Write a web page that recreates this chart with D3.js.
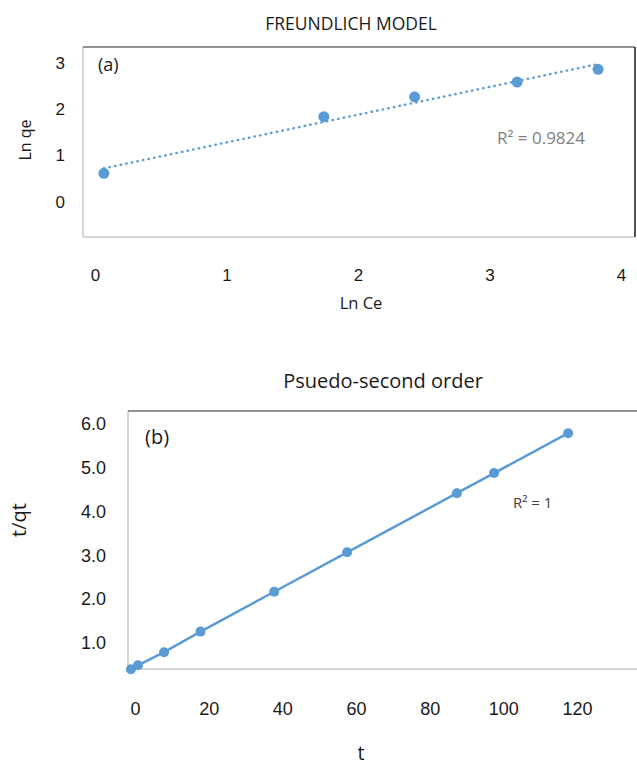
<!DOCTYPE html>
<html>
<head>
<meta charset="utf-8">
<script src="https://cdn.jsdelivr.net/npm/d3@7"></script>
<style>
    body { margin: 0; background: #fff; }
    svg { display: block; font-family: "Open Sans", sans-serif; }
    .tick text { fill: #1a1a1a; }
</style>
</head>
<body>
<div id="chart"></div>
<script>
// (a) Freundlich isotherm: Ln Ce vs Ln qe
const lnCe = [0.068, 1.74, 2.43, 3.21, 3.825];
const lnQe = [0.615, 1.84, 2.27, 2.59, 2.866];
const ticksA_x = [0, 1, 2, 3, 4];
const ticksA_y = [0, 1, 2, 3];

// (b) Pseudo-second order kinetics: t vs t/qt
const tVals = [-1.1, 0.8, 7.9, 17.8, 37.8, 57.6, 87.4, 97.5, 117.6];
const tqtVals = [0.40, 0.49, 0.79, 1.26, 2.17, 3.07, 4.42, 4.88, 5.79];
const ticksB_x = [0, 20, 40, 60, 80, 100, 120];
const ticksB_y = [1, 2, 3, 4, 5, 6];

const blue = '#5B9BD5';

const svg = d3.select('#chart').append('svg')
    .attr('width', 637)
    .attr('height', 765);

// plot frame: light gray left/bottom, darker top, black right
const drawFrame = (x0, x1, y0, y1, withRight) => {
    svg.append('line').attr('x1', x0).attr('x2', x0).attr('y1', y0).attr('y2', y1)
        .attr('stroke', '#c8c8c8').attr('stroke-width', 1.5);
    svg.append('line').attr('x1', x0).attr('x2', x1).attr('y1', y1).attr('y2', y1)
        .attr('stroke', '#c8c8c8').attr('stroke-width', 1.5);
    svg.append('line').attr('x1', x0).attr('x2', x1).attr('y1', y0).attr('y2', y0)
        .attr('stroke', '#6e6e6e').attr('stroke-width', 1.5);
    if (withRight) {
        svg.append('line').attr('x1', x1).attr('x2', x1).attr('y1', y0).attr('y2', y1)
            .attr('stroke', '#1a1a1a').attr('stroke-width', 1.5);
    }
};

const label = (x, y, txt, size, opts = {}) => {
    return svg.append('text')
        .attr('x', x).attr('y', y).attr('dy', '0.35em')
        .attr('text-anchor', opts.anchor || 'start')
        .style('font-size', size + 'px')
        .attr('fill', opts.color || '#1a1a1a')
        .text(txt);
};

// ---------- chart (a) ----------
const xA = d3.scaleLinear().domain([-0.091, 4.106]).range([83, 635]);
const yA = d3.scaleLinear().domain([-0.764, 3.348]).range([237, 47]);

label(351, 24, 'FREUNDLICH MODEL', 17.5, { anchor: 'middle' });

drawFrame(83, 635, 47, 237, true);

const axA_x = svg.append('g')
    .attr('transform', 'translate(0,266)')
    .call(d3.axisBottom(xA).tickValues(ticksA_x).tickSize(0).tickPadding(3).tickFormat(d3.format('d')));
axA_x.select('.domain').remove();
axA_x.selectAll('text').style('font-size', '17px').style('font-family', null);

const axA_y = svg.append('g')
    .attr('transform', 'translate(66,0)')
    .call(d3.axisLeft(yA).tickValues(ticksA_y).tickSize(0).tickPadding(1).tickFormat(d3.format('d')));
axA_y.select('.domain').remove();
axA_y.selectAll('text').style('font-size', '17px').style('font-family', null);

label(361, 303, 'Ln Ce', 16.5, { anchor: 'middle' });

svg.append('text')
    .attr('transform', 'translate(25,140) rotate(-90)')
    .attr('dy', '0.35em')
    .attr('text-anchor', 'middle')
    .style('font-size', '16px').attr('fill', '#1a1a1a')
    .text('Ln qe');

label(98, 65, '(a)', 18);

// linear trendline (least squares)
const ptsA = lnCe.map((x, i) => ({ x: x, y: lnQe[i] }));
const mx = d3.mean(ptsA, d => d.x);
const my = d3.mean(ptsA, d => d.y);
const slope = d3.sum(ptsA, d => (d.x - mx) * (d.y - my)) / d3.sum(ptsA, d => (d.x - mx) ** 2);
const icpt = my - slope * mx;
const xEnds = [lnCe[0], 3.80];

svg.append('line')
    .attr('x1', xA(xEnds[0])).attr('y1', yA(icpt + slope * xEnds[0]))
    .attr('x2', xA(xEnds[1])).attr('y2', yA(icpt + slope * xEnds[1]))
    .attr('stroke', blue).attr('stroke-width', 2.5)
    .attr('stroke-linecap', 'round')
    .attr('stroke-dasharray', '0.3 5.4');

svg.append('g').selectAll('circle')
    .data(ptsA)
    .enter().append('circle')
    .attr('cx', d => xA(d.x))
    .attr('cy', d => yA(d.y))
    .attr('r', 5.5)
    .attr('fill', blue);

label(497, 138, 'R² = 0.9824', 17, { color: '#7f7f7f' });

// ---------- chart (b) ----------
const xB = d3.scaleLinear().domain([-1.9, 136.3]).range([128, 637]);
const yB = d3.scaleLinear().domain([0.406, 6.297]).range([669, 411]);

label(383, 381, 'Psuedo-second order', 20, { anchor: 'middle' });

drawFrame(128, 640, 411, 669, false);

const axB_x = svg.append('g')
    .attr('transform', 'translate(0,699)')
    .call(d3.axisBottom(xB).tickValues(ticksB_x).tickSize(0).tickPadding(3));
axB_x.select('.domain').remove();
axB_x.selectAll('text').style('font-size', '18px').style('font-family', null);

const axB_y = svg.append('g')
    .attr('transform', 'translate(107,0)')
    .call(d3.axisLeft(yB).tickValues(ticksB_y).tickSize(0).tickPadding(1).tickFormat(d3.format('.1f')));
axB_y.select('.domain').remove();
axB_y.selectAll('text').style('font-size', '18px').style('font-family', null);

label(361, 753, 't', 20, { anchor: 'middle' });

svg.append('text')
    .attr('transform', 'translate(19,520) rotate(-90)')
    .attr('dy', '0.35em')
    .attr('text-anchor', 'middle')
    .style('font-size', '20px').attr('fill', '#1a1a1a')
    .text('t/qt');

label(145, 437, '(b)', 20);

const ptsB = tVals.map((x, i) => ({ x: x, y: tqtVals[i] }));

svg.append('path')
    .datum(ptsB)
    .attr('fill', 'none')
    .attr('stroke', blue)
    .attr('stroke-width', 2.5)
    .attr('d', d3.line().x(d => xB(d.x)).y(d => yB(d.y)));

svg.append('g').selectAll('circle')
    .data(ptsB)
    .enter().append('circle')
    .attr('cx', d => xB(d.x))
    .attr('cy', d => yB(d.y))
    .attr('r', 5)
    .attr('fill', blue);

label(513, 503, 'R² = 1', 15, { color: '#404040' });
</script>
</body>
</html>
